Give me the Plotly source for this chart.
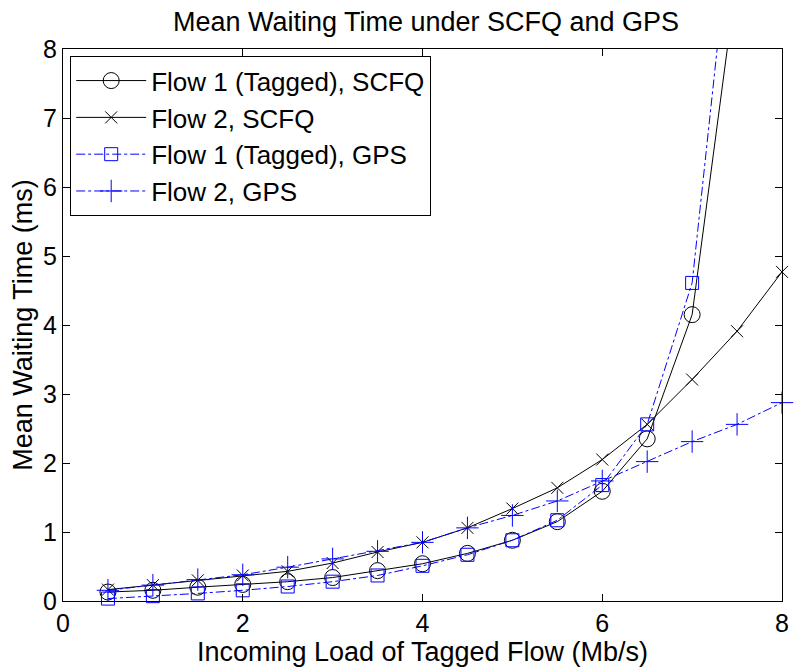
import plotly.graph_objects as go

# Incoming load of the tagged flow (Mb/s)
load = [0.5, 1.0, 1.5, 2.0, 2.5, 3.0, 3.5, 4.0, 4.5, 5.0, 5.5, 6.0, 6.5, 7.0, 7.5, 8.0]

# Mean waiting time (ms)
scfq_flow1 = [0.13, 0.155, 0.20, 0.24, 0.28, 0.34, 0.44, 0.54, 0.69, 0.88, 1.15, 1.59, 2.35, 4.15, 9.07]
scfq_flow2 = [0.165, 0.23, 0.30, 0.37, 0.43, 0.55, 0.71, 0.85, 1.06, 1.34, 1.64, 2.05, 2.56, 3.21, 3.91, 4.77]
gps_flow1 = [0.035, 0.07, 0.11, 0.155, 0.21, 0.28, 0.37, 0.51, 0.67, 0.88, 1.17, 1.68, 2.56, 4.61, 10.7]
gps_flow2 = [0.155, 0.23, 0.31, 0.38, 0.49, 0.61, 0.72, 0.85, 1.06, 1.24, 1.45, 1.74, 2.02, 2.31, 2.56, 2.875]

x_ticks = [0, 2, 4, 6, 8]
y_ticks = [0, 1, 2, 3, 4, 5, 6, 7, 8]

BLACK = "#000000"
BLUE = "#0000FF"
FONT = "Liberation Sans, Arial, Helvetica, sans-serif"

series = [
    ("Flow 1 (Tagged), SCFQ", scfq_flow1, BLACK, "solid", "circle-open", 16),
    ("Flow 2, SCFQ", scfq_flow2, BLACK, "solid", "x-thin-open", 12),
    ("Flow 1 (Tagged), GPS", gps_flow1, BLUE, "dashdot", "square-open", 13),
    ("Flow 2, GPS", gps_flow2, BLUE, "dashdot", "cross-thin-open", 16),
]

fig = go.Figure()
for name, ys, color, dash, symbol, size in series:
    fig.add_trace(go.Scatter(
        x=load[:len(ys)], y=ys, name=name, mode="lines+markers",
        line=dict(color=color, width=1, dash=dash),
        marker=dict(symbol=symbol, size=size, color=color,
                    line=dict(color=color, width=1)),
        cliponaxis=False,
    ))

axis_common = dict(
    showline=True, linecolor=BLACK, linewidth=1, mirror="ticks",
    ticks="inside", ticklen=7, tickcolor=BLACK, tickwidth=1,
    showgrid=False, zeroline=False,
    tickfont=dict(size=25, color=BLACK, family=FONT),
)

fig.update_layout(
    width=799, height=669,
    margin=dict(l=63, r=10, t=49, b=68),
    paper_bgcolor="white", plot_bgcolor="white",
    font=dict(family=FONT, color=BLACK, size=26),
    title=dict(text="Mean Waiting Time under SCFQ and GPS",
               x=(63 + 789) / 2 / 799, xanchor="center",
               y=1 - 22 / 669, yanchor="middle",
               font=dict(size=27, color=BLACK, family=FONT)),
    xaxis=dict(range=[0, 8], tickvals=x_ticks,
               title=dict(text="Incoming Load of Tagged Flow (Mb/s)",
                          font=dict(size=27, color=BLACK, family=FONT),
                          standoff=0),
               **axis_common),
    yaxis=dict(range=[0, 8], tickvals=y_ticks,
               title=dict(text="Mean Waiting Time (ms)",
                          font=dict(size=27, color=BLACK, family=FONT),
                          standoff=2),
               **axis_common),
    legend=dict(x=0.01, y=0.987, xanchor="left", yanchor="top",
                bgcolor="white", bordercolor=BLACK, borderwidth=1,
                font=dict(size=26, color=BLACK, family=FONT),
                tracegroupgap=0, itemwidth=70),
    showlegend=True,
)

fig.write_html("out.html")
